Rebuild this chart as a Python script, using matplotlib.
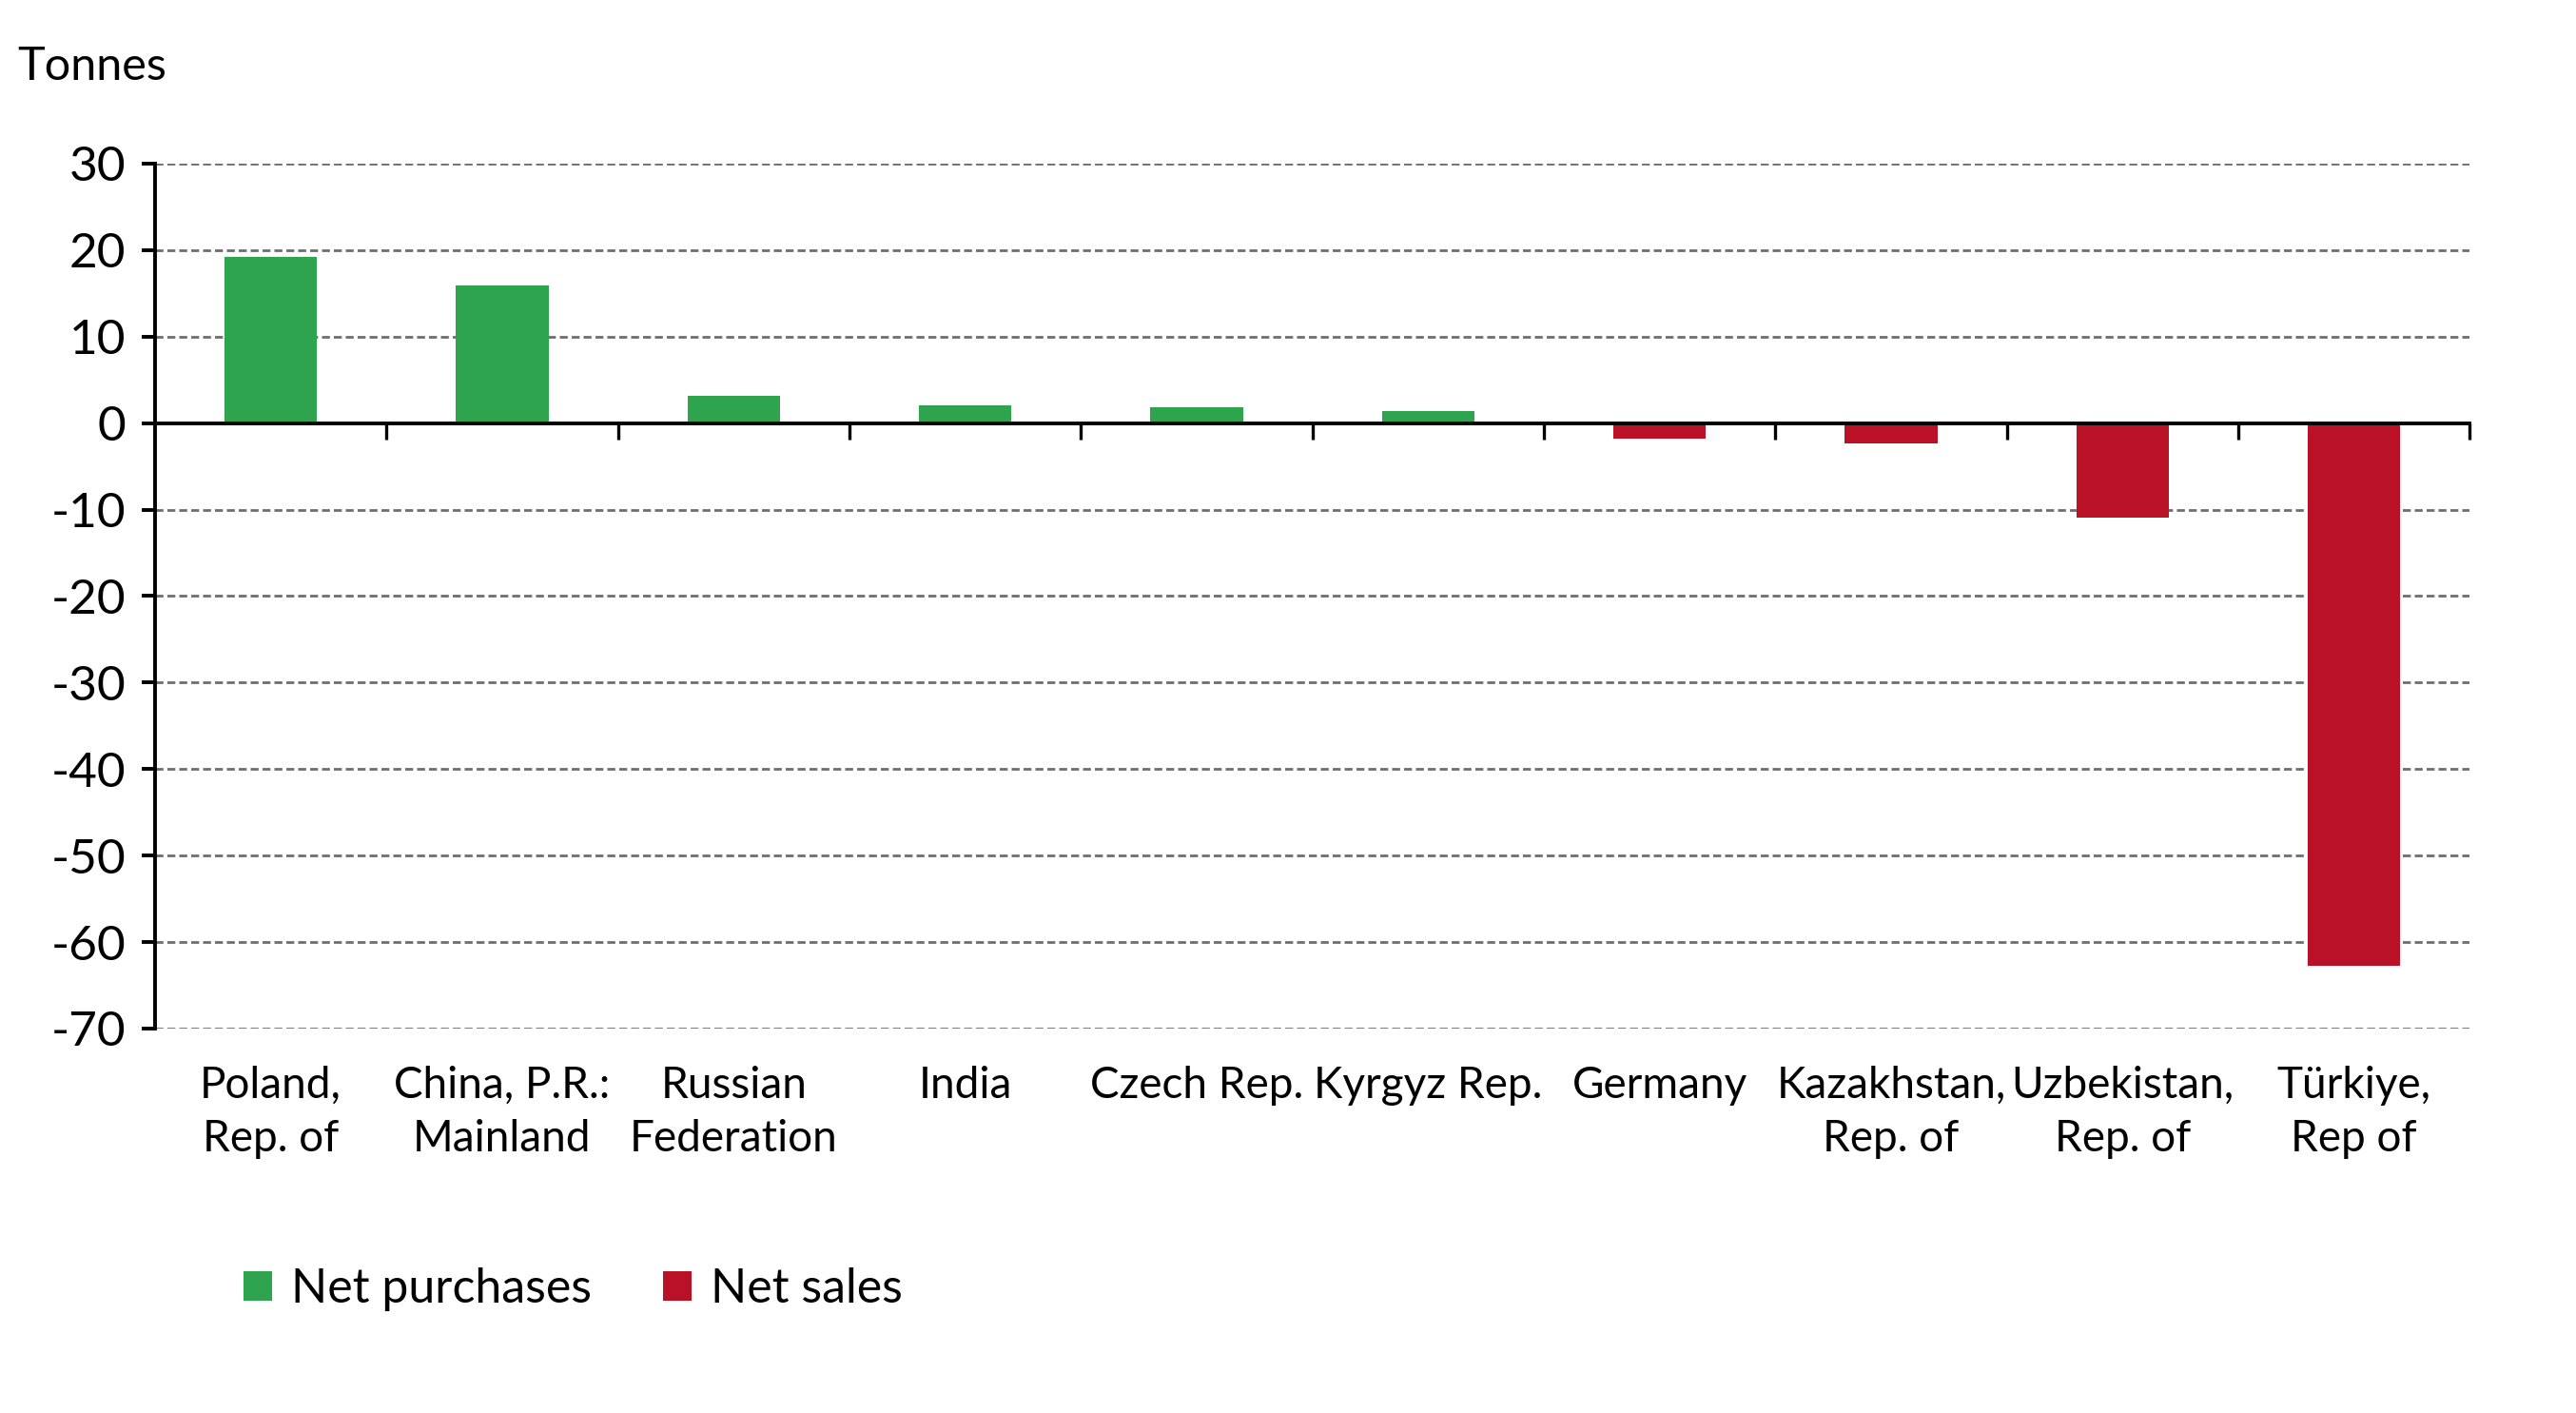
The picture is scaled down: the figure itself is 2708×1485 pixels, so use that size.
import matplotlib
matplotlib.use("Agg")
import matplotlib.pyplot as plt
from matplotlib.patches import Patch
import numpy as np

plt.rcParams['font.family'] = ['Lato', 'DejaVu Sans']

categories = ["Poland,\nRep. of", "China, P.R.:\nMainland", "Russian\nFederation", "India",
              "Czech Rep.", "Kyrgyz Rep.", "Germany", "Kazakhstan,\nRep. of",
              "Uzbekistan,\nRep. of", "Türkiye,\nRep of"]
values = [19.2, 15.9, 3.2, 2.0, 1.8, 1.4, -1.8, -2.3, -10.9, -62.8]
yticks = [30, 20, 10, 0, -10, -20, -30, -40, -50, -60, -70]
series_names = ["Net purchases", "Net sales"]

GREEN = "#2EA44F"
RED = "#BA1127"

fig = plt.figure(figsize=(13.54, 7.425), dpi=200)
ax = fig.add_axes([0.0602, 0.2721, 0.8985, 0.6121])

x = np.arange(len(categories))
colors = [GREEN if v >= 0 else RED for v in values]
ax.bar(x, values, width=0.4, color=colors, zorder=3)

ax.set_xlim(-0.5, len(categories) - 0.5)
ax.set_ylim(-70, 30)
ax.set_yticks(yticks)
ax.set_yticklabels([str(t) for t in yticks], fontsize=18.5)
for t in yticks:
    if t != 0:
        ax.axhline(t, color="#6e6e6e", linestyle=(0, (3, 1.5)), linewidth=1.0, zorder=1)

for s in ["top", "right"]:
    ax.spines[s].set_visible(False)
ax.spines["bottom"].set_position(("data", 0))
ax.spines["bottom"].set_linewidth(1.4)
ax.spines["left"].set_linewidth(1.4)
ax.spines["bottom"].set_zorder(4)

ax.set_xticks(np.arange(0.5, len(categories) - 0.4, 1.0))
ax.set_xticklabels([])
ax.tick_params(axis="x", direction="out", length=6, width=1.2)
ax.tick_params(axis="y", direction="out", length=5, width=1.4, pad=6)

for xi, lab in zip(x, categories):
    ax.text(xi, -0.043, lab, transform=ax.get_xaxis_transform(), ha="center", va="top",
            fontsize=16.5, linespacing=1.4)

fig.text(0.0066, 0.953, "Tonnes", fontsize=17.5, ha="left", va="center")

handles = [Patch(facecolor=GREEN), Patch(facecolor=RED)]
fig.legend(handles, series_names, loc="center left", bbox_to_anchor=(0.078, 0.0875),
           ncol=2, frameon=False, fontsize=18, handlelength=0.6, handleheight=0.6,
           handletextpad=0.4, columnspacing=1.5)

fig.savefig("out.png", dpi=200)
